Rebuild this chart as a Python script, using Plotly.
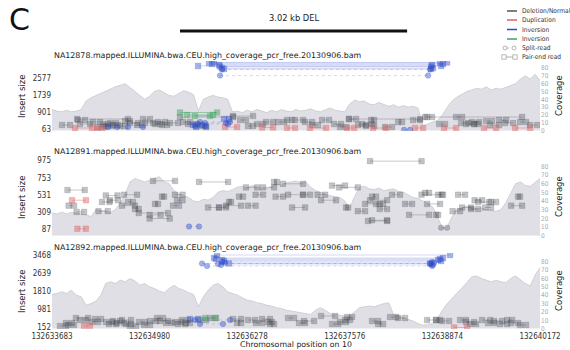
import numpy as np
import plotly.graph_objects as go

REGION_START = 132633683
REGION_END = 132640172
CHROM = "10"
SV_START = 132635385
SV_END = 132638405
SV_TYPE = "DEL"

SAMPLES = [
    "NA12878.mapped.ILLUMINA.bwa.CEU.high_coverage_pcr_free.20130906.bam",
    "NA12891.mapped.ILLUMINA.bwa.CEU.high_coverage_pcr_free.20130906.bam",
    "NA12892.mapped.ILLUMINA.bwa.CEU.high_coverage_pcr_free.20130906.bam",
]
X_TICKS = [132633683, 132634980, 132636278, 132637576, 132638874, 132640172]
INSERT_TICKS = [[63, 901, 1739, 2577], [87, 309, 531, 753, 975], [152, 981, 1810, 2639, 3468]]
COV_TICKS = [0, 10, 20, 30, 40, 50, 60, 70, 80]

# coverage, evenly spaced bins across the region
P1_COV = [27,25,24,26,24,25,27,38,42,45,48,50,53,56,58,60,55,50,46,40,44,50,52,48,45,44,48,51,49,46,
          25,40,43,45,43,42,40,24,25,23,26,24,27,25,23,26,24,27,25,24,27,25,26,28,25,24,27,29,26,25,
          24,34,39,37,38,34,33,36,33,31,33,30,32,30,31,29,6,9,11,13,20,30,38,43,47,50,52,54,53,56,
          52,54,53,55,58,60,66,70,66,72,64]
P2_COV = [26,25,27,25,27,26,25,24,22,30,29,28,27,30,38,48,62,66,64,62,64,66,68,62,60,52,48,46,44,40,
          39,42,41,44,50,52,51,53,56,57,55,58,56,55,54,57,60,58,61,62,63,61,62,56,52,50,48,46,45,44,
          40,32,45,56,57,54,53,55,52,53,54,51,50,47,44,43,40,37,33,22,8,10,22,31,32,34,33,31,32,30,
          29,28,30,38,49,60,62,58,57,61,66]
P3_COV = [41,42,44,42,46,40,38,28,30,33,40,54,56,54,58,56,60,57,52,54,50,48,45,43,48,52,48,46,43,41,
          26,38,46,52,54,50,44,42,40,37,34,33,31,30,28,27,25,24,22,21,20,19,18,17,22,25,22,18,17,16,
          15,15,20,25,26,27,26,28,30,31,17,15,13,11,9,6,4,5,6,12,22,30,36,42,48,55,62,63,60,58,
          56,58,56,55,60,63,58,54,51,64,73]

# reads: (start offset from region start, end offset, insert size)
P1_GREY = [(133,239,247),(346,439,495),(372,505,296),(545,638,395),(678,745,296),(718,798,197),(771,851,346),
           (811,878,247),(971,1037,445),(1037,1144,346),(1210,1303,544),(1237,1343,346),(1370,1436,296),
           (1410,1503,395),(1463,1530,247),(1569,1676,346),(333,1011,544),(2407,2673,693),(1702,2407,643),
           (2727,2806,296),(2846,2939,395),(3006,3086,395),(3126,3192,495),(3232,3338,495),(3365,3458,395),
           (3591,3684,495),(3751,3844,296),(3950,4043,544),(4070,4176,247),(4123,4256,296),(4176,4283,197),
           (4243,4283,495),(4429,4522,147),(3950,4894,544),(4961,6251,643),(4602,4655,395),(4801,4894,495),
           (4988,5054,643),(5147,5227,296),(5373,5453,643),(5440,5533,346),(5506,5613,296),(5586,5679,395),
           (5613,5666,296),(5772,5852,445),(5825,5945,247),(5945,6038,495),(6025,6131,346),(6224,6304,395),
           (6357,6451,247),(1742,1835,395),(1809,1915,296),(1968,2048,197),(612,692,147),(904,971,197),
           (1130,1197,247),(2500,2580,495),(2607,2673,197),(3458,3538,247),(3830,3910,147)]
P1_RED = [(306,532,98),(598,665,48),(2301,2461,147),(2793,2939,123),(3126,3232,98),(3431,3644,98),
          (3924,4017,98),(4269,4442,98),(4828,4934,98),(5214,5373,98),(5746,5905,98),(6158,6357,98)]
P1_GREEN = [(1702,2195,867),(1796,2141,743),(1902,2101,693)]
P1_BLUE_PE = [(2088,5160,3322),(2128,5200,3272),(2155,5254,3347),(2221,5054,3222),(2234,5041,3148),
              (2261,5067,3074),(2288,5041,3024),(1942,5174,3173),(1875,1995,247),(1915,2048,147),(2288,2354,544)]
P1_BLUE_SR = [(2261,5027,3000),(2234,5001,2697),(1902,2035,197),(1942,2341,296),(1968,2367,395),
              (2035,2314,346),(745,865,147),(1011,1210,147),(4682,4761,5)]

P2_GREY = [(206,435,592),(221,293,388),(327,426,306),(618,741,316),(716,871,521),(665,765,436),(958,1131,531),
           (931,1104,388),(1104,1153,344),(1153,1543,292),(1298,1444,268),(1298,1565,220),(1343,1636,711),
           (1370,1410,411),(1463,1490,506),(1636,1736,531),(1609,1689,388),(1663,1736,459),(1955,2341,697),
           (2075,2221,364),(2221,2314,364),(2314,2514,388),(2354,2381,436),(2487,2540,506),(2580,2727,626),
           (2607,2707,388),(2707,2806,531),(2806,2953,626),(2953,2993,697),(2973,3072,506),(3072,3338,673),
           (3139,3338,531),(3192,3365,364),(3338,3431,531),(3531,3631,531),(3578,3777,459),(3724,3897,650),
           (3817,4066,626),(3910,3937,364),(4066,4163,316),(4163,4357,411),(4229,4456,459),(4256,4309,506),
           (4309,4402,411),(4357,4456,344),(4256,4456,197),(4522,4628,531),(4695,4788,411),(4748,5014,268),
           (4961,5014,555),(4914,5182,531),(4988,5160,411),(5107,5134,268),(5134,5200,531),(5327,5426,316),
           (5400,5493,531),(5453,5573,364),(5573,5666,344),(5619,5719,459),(5666,5812,436),(5759,5839,364),
           (5839,5905,436),(6105,6251,388),(6198,6224,506),(4229,4914,969),(4203,4456,188),(771,878,459),
           (1011,1077,436)]
P2_GREY_SR = [(5174,5254,101)]
P2_RED = [(266,452,459),(338,450,87)]
P2_BLUE_SR = [(1822,1955,116)]

P3_GREY = [(186,266,327),(213,293,235),(319,479,557),(532,612,373),(572,652,511),(718,798,373),(758,851,281),
           (811,904,419),(865,958,327),(931,1051,465),(984,1051,281),(1157,1237,373),(1224,1303,235),
           (1397,1476,557),(1436,1543,419),(1516,1596,327),(1636,1716,373),(1676,1769,281),(1729,1809,465),
           (1782,1835,327),(2407,2514,511),(2461,2514,327),(2607,2700,465),(2713,2793,327),(2793,2899,511),
           (2873,2926,373),(2899,2953,281),(3139,3219,557),(3285,3365,327),(3352,3485,419),(3578,3764,649),
           (3724,3804,281),(3830,3910,373),(3897,3963,465),(3924,3990,603),(4256,4336,419),(4336,4402,281),
           (4495,4575,603),(4602,4695,557),(4988,5107,465),(5107,5160,465),(5187,5280,419),(5426,5506,465),
           (5506,5613,373),(5559,5639,281),(5719,5825,465),(5799,5879,327),(5879,5985,419),(5958,6052,281),
           (6052,6118,465),(6105,6198,327),(6224,6304,235),(106,186,189),(372,452,465),(1037,1117,189),
           (1303,1383,419),(1968,2048,465),(2101,2181,557)]
P3_RED = [(426,505,203),(5347,5520,120)]
P3_GREEN = [(2035,2168,557)]
P3_BLUE_PE = [(2155,5200,3321),(2195,5293,3459),(2261,5134,3229),(2181,5160,3275),(2354,5027,3068),
              (2288,5174,3183),(1835,1942,511)]
P3_BLUE_SR = [(1995,5027,3068),(2061,5054,2952),(2261,5054,3137),(2301,5081,3100),(2208,5041,3044),
              (2248,5067,2998),(1968,2274,281),(1902,2367,465)]

LEGEND_LABELS = ["Deletion/Normal", "Duplication", "Inversion", "Inversion", "Split-read", "Pair-end read"]
LEGEND_COLORS = ["#555555", "#e06060", "#3048c0", "#40a060"]

W, H = 570, 350
NARROW = "Liberation Sans Narrow, DejaVu Sans Condensed, Arial Narrow, sans-serif"
SANS = "DejaVu Sans, sans-serif"

GREY = ("rgba(70,75,82,0.32)", "rgba(120,120,128,0.4)")
RED = ("rgba(225,95,95,0.45)", "rgba(225,95,95,0.4)")
BLUE = ("rgba(45,75,200,0.42)", "rgba(110,130,225,0.3)")
GREEN = ("rgba(60,165,95,0.45)", "rgba(60,165,95,0.45)")


def px_x(p):
    return p / W


def px_y(p):
    return 1 - p / H


fig = go.Figure()

PANELS = [
    dict(cov=P1_COV, dom=(61, 131), ins_rng=[-51, 3421], cov_rng=[-0.5, 89],
         reads=[(P1_GREY, GREY, "pe"), (P1_RED, RED, "pe"), (P1_GREEN, GREEN, "pe"),
                (P1_BLUE_PE, BLUE, "pe"), (P1_BLUE_SR, BLUE, "sr")]),
    dict(cov=P2_COV, dom=(157, 237), ins_rng=[-21, 1023], cov_rng=[-1.6, 90.8],
         reads=[(P2_GREY, GREY, "pe"), (P2_GREY_SR, GREY, "sr"), (P2_RED, RED, "pe"),
                (P2_BLUE_SR, BLUE, "sr")]),
    dict(cov=P3_COV, dom=(253, 329), ins_rng=[51, 3551], cov_rng=[-0.5, 90.5],
         reads=[(P3_GREY, GREY, "pe"), (P3_RED, RED, "pe"), (P3_GREEN, GREEN, "pe"),
                (P3_BLUE_PE, BLUE, "pe"), (P3_BLUE_SR, BLUE, "sr")]),
]

layout_axes = {}
for i, p in enumerate(PANELS):
    n = i + 1
    xa = "x" if n == 1 else f"x{n}"
    ycov_n = 2 * i + 1
    yins_n = 2 * i + 2
    ycov = "y" if ycov_n == 1 else f"y{ycov_n}"
    yins = f"y{yins_n}"
    pos = np.linspace(REGION_START, REGION_END, len(p["cov"]))
    fig.add_trace(go.Scatter(x=pos, y=p["cov"], xaxis=xa, yaxis=ycov, mode="lines",
                             line=dict(color="#c8c9d0", width=0.8), fill="tozeroy",
                             fillcolor="#dfdfe5", showlegend=False, hoverinfo="skip"))
    for reads, (mc, lc), kind in p["reads"]:
        xs, ys = [], []
        for s, e, ins in reads:
            xs += [REGION_START + s, REGION_START + e, None]
            ys += [ins, ins, None]
        if kind == "pe":
            fig.add_trace(go.Scatter(x=xs, y=ys, xaxis=xa, yaxis=yins, mode="lines+markers",
                                     line=dict(color=lc, width=1),
                                     marker=dict(symbol="square", size=5.5, color=mc,
                                                 line=dict(width=0.6, color=mc)),
                                     showlegend=False, hoverinfo="skip"))
        else:
            fig.add_trace(go.Scatter(x=xs, y=ys, xaxis=xa, yaxis=yins, mode="lines+markers",
                                     line=dict(color=lc, width=1, dash="dot"),
                                     marker=dict(symbol="circle", size=5.5, color=mc,
                                                 line=dict(width=0.6, color=mc)),
                                     showlegend=False, hoverinfo="skip"))
    y0, y1 = px_y(p["dom"][1]), px_y(p["dom"][0])
    xkey = "xaxis" if n == 1 else f"xaxis{n}"
    layout_axes[xkey] = dict(domain=[px_x(52), px_x(540)], range=[REGION_START, REGION_END],
                             anchor=ycov, showgrid=False, zeroline=False, showline=False, ticks="",
                             tickvals=X_TICKS, ticktext=[str(v) for v in X_TICKS],
                             showticklabels=(n == 3), automargin=False, ticklabelstandoff=1,
                             tickfont=dict(family=NARROW, size=8, color="#333333"))
    ycov_key = "yaxis" if ycov_n == 1 else f"yaxis{ycov_n}"
    layout_axes[ycov_key] = dict(domain=[y0, y1], range=p["cov_rng"], anchor=xa, side="right",
                                 tickvals=COV_TICKS, showgrid=False, zeroline=False, ticks="",
                                 automargin=False,
                                 tickfont=dict(family=NARROW, size=6.5, color="#aaaaaa"))
    layout_axes[f"yaxis{yins_n}"] = dict(overlaying=ycov, range=p["ins_rng"], anchor=xa, side="left",
                                         tickvals=INSERT_TICKS[i], showgrid=False, zeroline=False,
                                         ticks="", automargin=False,
                                         tickfont=dict(family=NARROW, size=8, color="#333333"))

annotations = []
shapes = []
for i, p in enumerate(PANELS):
    top, bot = p["dom"]
    annotations.append(dict(text=SAMPLES[i], x=px_x(52), y=px_y(top - 6), xref="paper", yref="paper",
                            xanchor="left", yanchor="middle", showarrow=False,
                            font=dict(family=SANS, size=7.9, color="#222222")))
    mid = (top + bot) / 2
    annotations.append(dict(text="Insert size", x=px_x(22), y=px_y(mid), xref="paper", yref="paper",
                            textangle=-90, showarrow=False, xanchor="center", yanchor="middle",
                            font=dict(family=SANS, size=8.5, color="#222222")))
    annotations.append(dict(text="Coverage", x=px_x(559), y=px_y(mid), xref="paper", yref="paper",
                            textangle=-90, showarrow=False, xanchor="center", yanchor="middle",
                            font=dict(family=SANS, size=8.5, color="#222222")))

annotations.append(dict(text="Chromosomal position on " + CHROM, x=(REGION_START + REGION_END) / 2,
                        xref="x3", y=px_y(344), yref="paper", showarrow=False,
                        xanchor="center", yanchor="middle",
                        font=dict(family=SANS, size=7.8, color="#222222")))
annotations.append(dict(text="C", x=px_x(19), y=1, xref="paper", yref="paper", showarrow=False,
                        xanchor="center", yanchor="top", font=dict(family=SANS, size=30, color="#111111")))
annotations.append(dict(text=f"{(SV_END - SV_START) / 1000:.2f} kb {SV_TYPE}", x=(SV_START + SV_END) / 2,
                        xref="x", y=px_y(18), yref="paper", showarrow=False, xanchor="center",
                        yanchor="middle", font=dict(family=SANS, size=8.3, color="#222222")))
shapes.append(dict(type="line", xref="x", yref="paper", x0=SV_START, x1=SV_END, y0=px_y(31), y1=px_y(31),
                   line=dict(color="#111111", width=3)))

# legend
leg_y = [11, 20, 29.5, 39, 48, 57]
for k, lab in enumerate(LEGEND_LABELS):
    yy = px_y(leg_y[k])
    annotations.append(dict(text=lab, x=px_x(520), y=yy, xref="paper", yref="paper", showarrow=False,
                            xanchor="left", yanchor="middle",
                            font=dict(family=NARROW, size=6.6, color="#333333")))
    if k < 4:
        shapes.append(dict(type="line", xref="paper", yref="paper", x0=px_x(507), x1=px_x(517),
                           y0=yy, y1=yy, line=dict(color=LEGEND_COLORS[k], width=1.5)))
    elif k == 4:
        shapes.append(dict(type="line", xref="paper", yref="paper", x0=px_x(506), x1=px_x(515),
                           y0=yy, y1=yy, line=dict(color="#aaaaaa", width=0.8, dash="dot")))
        for cx in (505, 514):
            shapes.append(dict(type="circle", xref="paper", yref="paper", x0=px_x(cx - 2), x1=px_x(cx + 2),
                               y0=px_y(leg_y[k] + 2), y1=px_y(leg_y[k] - 2),
                               line=dict(color="#999999", width=0.7), fillcolor="white"))
    else:
        shapes.append(dict(type="line", xref="paper", yref="paper", x0=px_x(505), x1=px_x(515),
                           y0=yy, y1=yy, line=dict(color="#999999", width=0.8)))
        for cx in (504, 515):
            shapes.append(dict(type="rect", xref="paper", yref="paper", x0=px_x(cx - 2.2), x1=px_x(cx + 2.2),
                               y0=px_y(leg_y[k] + 2.2), y1=px_y(leg_y[k] - 2.2),
                               line=dict(color="#999999", width=0.7), fillcolor="white"))

fig.update_layout(width=W, height=H, autosize=False, margin=dict(l=0, r=0, t=0, b=0, pad=0),
                  paper_bgcolor="white", plot_bgcolor="white", font=dict(family=SANS), showlegend=False,
                  annotations=annotations, shapes=shapes, **layout_axes)

fig.write_html("out.html", config={"displayModeBar": False, "responsive": False},
               default_width=W, default_height=H,
               post_script="document.body.style.margin='0';document.body.style.overflow='hidden';")
